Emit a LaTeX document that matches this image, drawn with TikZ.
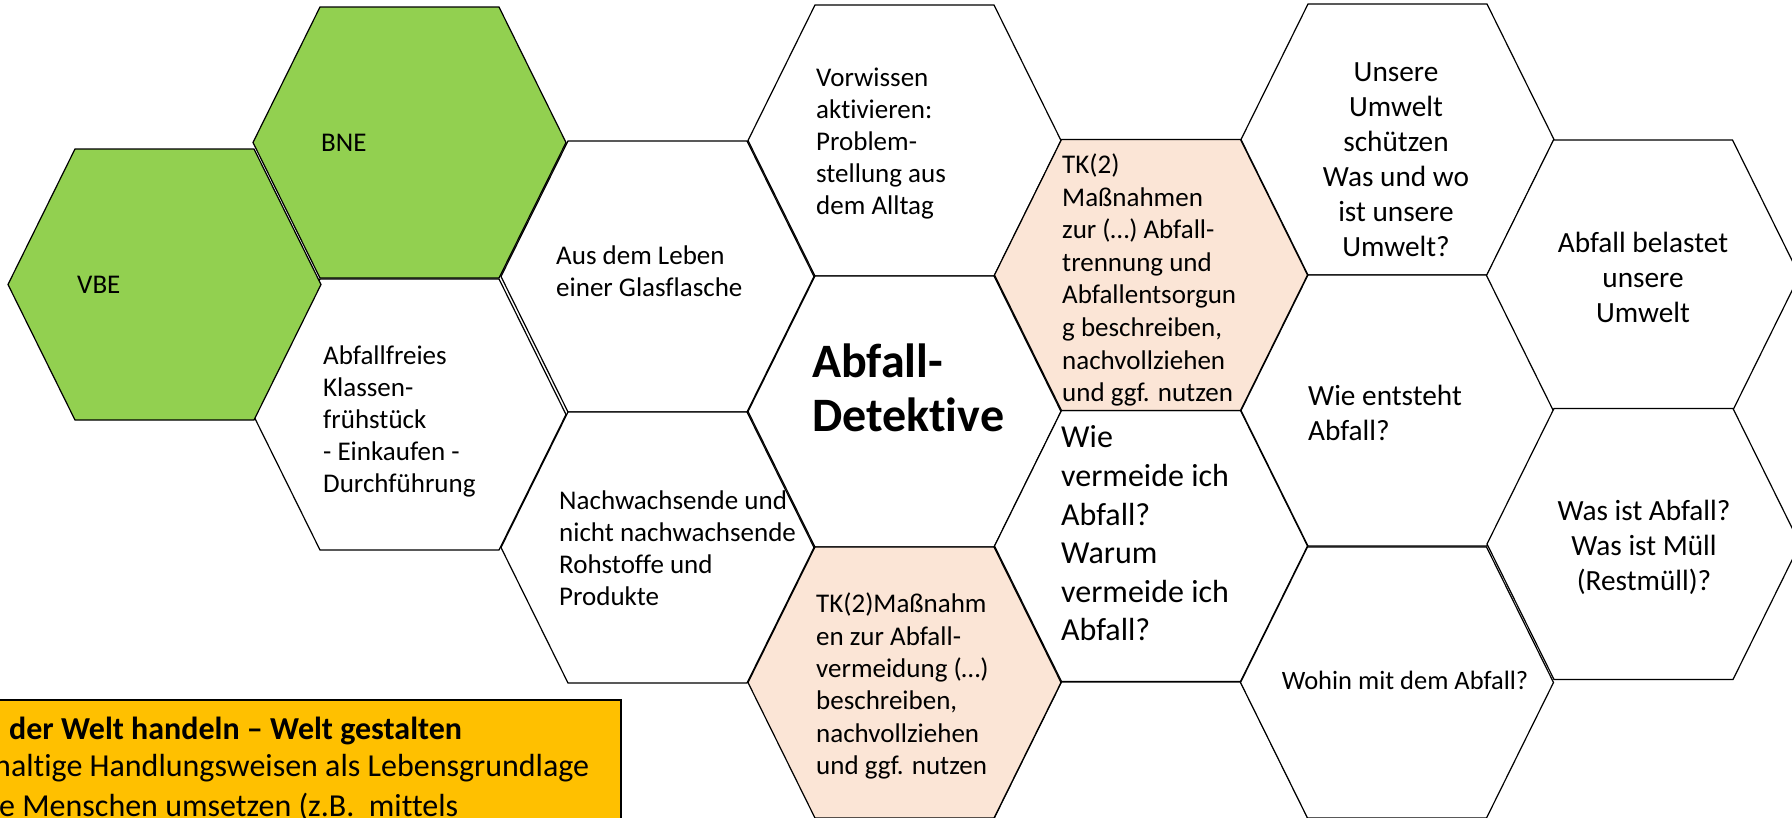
\documentclass[tikz,border=0pt]{standalone}
\usepackage{fontspec}
\setmainfont{Carlito}[Ligatures={NoCommon,NoContextual},Contextuals={NoAlternate}]
\definecolor{hexgreen}{HTML}{92D050}
\definecolor{hexorange}{HTML}{FBE5D6}
\definecolor{boxgold}{HTML}{FFC000}
\newcommand\hexa[3]{\path[hexline,fill=#3] (#1-156.5,#2) -- (#1-89.5,#2-135.5) -- (#1+89.5,#2-135.5) -- (#1+156.5,#2) -- (#1+89.5,#2+135.5) -- (#1-89.5,#2+135.5) -- cycle;}
\tikzset{
  hexline/.style={draw=black,line width=1.2pt,line join=miter},
  txt/.style={inner sep=0pt,font=\fontsize{27}{32}\selectfont,align=left,anchor=west},
  txtbig/.style={inner sep=0pt,font=\fontsize{29.3}{35}\selectfont},
  txtq/.style={inner sep=0pt,font=\fontsize{32}{38.6}\selectfont,align=left,anchor=west},
  txttitle/.style={inner sep=0pt,font=\fontsize{48}{54}\selectfont\bfseries,align=left,anchor=west},
  txtbox/.style={inner sep=0pt,font=\fontsize{32}{38.5}\selectfont,anchor=west},
}
\begin{document}
\begin{tikzpicture}[x=1pt,y=-1pt]
\useasboundingbox (0,0) rectangle (1792,817);
\clip (0,0) rectangle (1792,817);
\fill[white] (0,0) rectangle (1792,817);
% white hexagons
\hexa{409.5}{414.5}{white}
\hexa{657.5}{276.5}{white}
\hexa{657.5}{547.5}{white}
\hexa{904.5}{140.5}{white}
\hexa{904.5}{411.5}{white}
\hexa{1151}{546}{white}
\hexa{1151}{817.5}{white}
\hexa{1397.5}{139.5}{white}
\hexa{1397.5}{410.5}{white}
\hexa{1397}{682.5}{white}
\hexa{1643}{275.5}{white}
\hexa{1643.5}{544}{white}
% coloured hexagons
\hexa{904.5}{682.5}{hexorange}
\hexa{1151}{275}{hexorange}
\hexa{409.5}{142.5}{hexgreen}
\hexa{164.5}{284.5}{hexgreen}
% yellow box
\path[draw=black,line width=2.5pt,fill=boxgold] (-10,700) rectangle (621,840);
% texts
\node[txt] (vbe) at (77,285) {VBE};
\node[txt] (bne) at (321,143) {BNE};
\node[txt] (frueh) at (323,421.5) {Abfallfreies\\Klassen-\\frühstück\\- Einkaufen -\\Durchführung};
\node[txt] (glas) at (556,271) {Aus dem Leben\\einer Glasflasche};
\node[txt] (vorw) at (816,144) {Vorwissen\\aktivieren:\\Problem-\\stellung aus\\dem Alltag};
\node[txt] (roh) at (559,548) {Nachwachsende und\\nicht nachwachsende\\Rohstoffe und\\Produkte};
\node[txt,font=\fontsize{27}{32.3}\selectfont] (tkl) at (816,686) {TK(2)Maßnahm\\en zur Abfall-\\vermeidung (…)\\beschreiben,\\nachvollziehen\\und ggf. nutzen};
\node[txttitle] (title) at (812,388) {Abfall-\\Detektive};
\node[txt,font=\fontsize{27}{32.6}\selectfont] (tku) at (1062,280) {TK(2)\\Maßnahmen\\zur (…) Abfall-\\trennung und\\Abfallentsorgun\\g beschreiben,\\nachvollziehen\\und ggf. nutzen};
\node[txtbig,align=center] (umwelt) at (1396,160) {Unsere\\Umwelt\\schützen\\Was und wo\\ist unsere\\Umwelt?};
\node[txtbig,align=center] (belastet) at (1643,277) {Abfall belastet\\unsere\\Umwelt};
\node[txtbig,align=left,anchor=west] (entsteht) at (1308,412.5) {Wie entsteht\\Abfall?};
\node[txtq] (vermeide) at (1061,533.5) {Wie\\vermeide ich\\Abfall?\\Warum\\vermeide ich\\Abfall?};
\node[txtbig,align=center] (muell) at (1644,547) {Was ist Abfall?\\Was ist Müll\\(Restmüll)?};
\node[inner sep=0pt,font=\fontsize{26.5}{32}\selectfont] (wohin) at (1405,680) {Wohin mit dem Abfall?};
\node[txtbox,font=\fontsize{32}{38.5}\selectfont\bfseries] (bx1) at (9,731) {der Welt handeln – Welt gestalten};
\node[txtbox] (bx2) at (-6,768) {haltige Handlungsweisen als Lebensgrundlage};
\node[txtbox] (bx3) at (-1,807) {e Menschen umsetzen (z.B.\ \ mittels};
\end{tikzpicture}
\end{document}
